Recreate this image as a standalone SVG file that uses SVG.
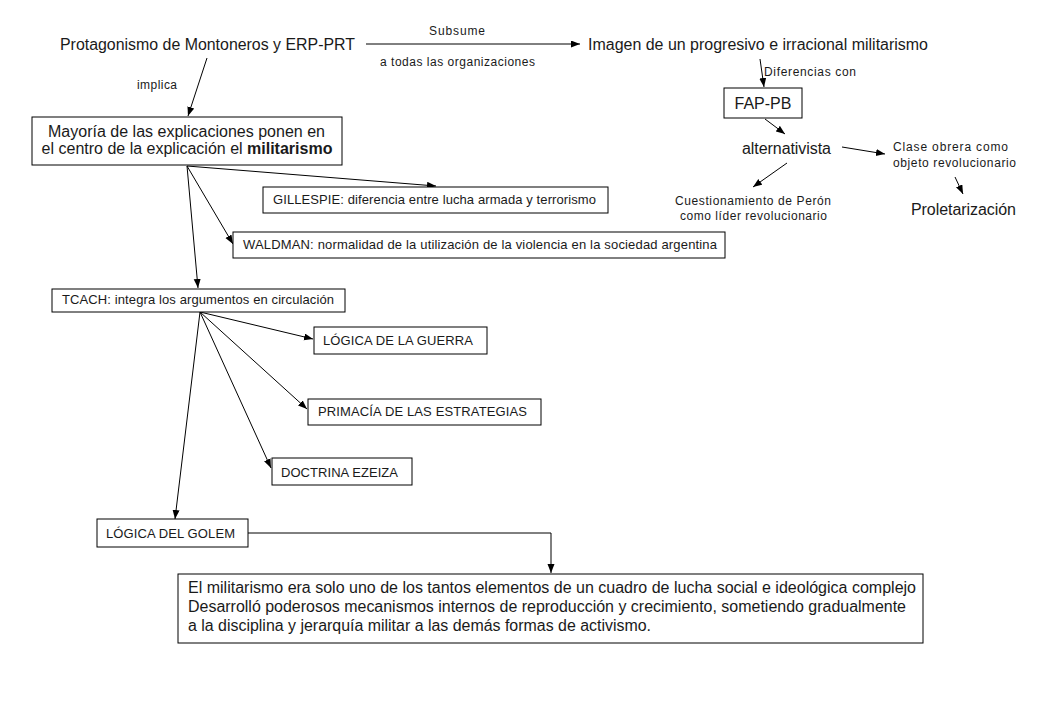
<svg xmlns="http://www.w3.org/2000/svg" width="1040" height="720" viewBox="0 0 1040 720">
<defs>
<marker id="ah" markerUnits="userSpaceOnUse" markerWidth="10" markerHeight="8" refX="9" refY="3.5" orient="auto">
<path d="M0,0 L9,3.5 L0,7 z" fill="#000"/>
</marker>
<style>
text{font-family:"Liberation Sans",Arial,sans-serif;fill:#1a1a1a}
.big{font-size:16px}
.sm{font-size:12px}
.bx{font-size:13px}
.bot{font-size:16px}
.box{fill:#fff;stroke:#000;stroke-width:1}
.c{fill:none;stroke:#000;stroke-width:1}
.a{marker-end:url(#ah)}
</style>
</defs>
<rect width="1040" height="720" fill="#fff"/>

<g id="connectors">
<line class="c a" x1="366" y1="44" x2="580" y2="44"/>
<line class="c a" x1="207" y1="58" x2="188" y2="116"/>
<line class="c a" x1="187" y1="166" x2="436" y2="186"/>
<line class="c a" x1="187" y1="166" x2="233" y2="244"/>
<line class="c a" x1="187" y1="166" x2="198" y2="288"/>
<line class="c a" x1="200" y1="312" x2="313" y2="339"/>
<line class="c a" x1="200" y1="312" x2="307" y2="409"/>
<line class="c a" x1="200" y1="312" x2="271" y2="468"/>
<line class="c a" x1="200" y1="312" x2="175" y2="519"/>
<polyline class="c a" points="248,533 551,533 551,573"/>
<line class="c a" x1="760" y1="59" x2="764" y2="87"/>
<line class="c a" x1="765" y1="119" x2="785" y2="134"/>
<line class="c a" x1="842" y1="147" x2="885" y2="154"/>
<line class="c a" x1="787" y1="163" x2="753" y2="187"/>
<line class="c a" x1="955" y1="177" x2="963" y2="194"/>
</g>

<g id="labels">
<text class="sm" x="429" y="35" textLength="56">Subsume</text>
<text class="sm" x="380" y="66" textLength="155">a todas las organizaciones</text>
<text class="sm" x="137" y="89" textLength="40">implica</text>
<text class="sm" x="764" y="76" textLength="92">Diferencias con</text>
</g>

<g id="n-protagonismo">
<text class="big" x="60" y="50" textLength="295" lengthAdjust="spacingAndGlyphs">Protagonismo de Montoneros y ERP-PRT</text>
</g>

<g id="n-imagen">
<text class="big" x="588" y="50" textLength="340" lengthAdjust="spacingAndGlyphs">Imagen de un progresivo e irracional militarismo</text>
</g>

<g id="n-mayoria">
<rect class="box" x="32" y="117" width="310" height="48"/>
<text class="big" x="48" y="137" textLength="277" lengthAdjust="spacingAndGlyphs">Mayoría de las explicaciones ponen en</text>
<text class="big" x="187" y="154" text-anchor="middle">el centro de la explicación el <tspan font-weight="bold">militarismo</tspan></text>
</g>

<g id="n-gillespie">
<rect class="box" x="263" y="187" width="345" height="26"/>
<text class="bx" x="273" y="204" textLength="323">GILLESPIE: diferencia entre lucha armada y terrorismo</text>
</g>

<g id="n-waldman">
<rect class="box" x="233" y="232" width="492" height="26"/>
<text class="bx" x="243" y="249" textLength="474">WALDMAN: normalidad de la utilización de la violencia en la sociedad argentina</text>
</g>

<g id="n-tcach">
<rect class="box" x="52" y="289" width="293" height="23"/>
<text class="bx" x="62" y="304" textLength="272">TCACH: integra los argumentos en circulación</text>
</g>

<g id="n-guerra">
<rect class="box" x="314" y="327" width="173" height="27"/>
<text class="bx" x="323" y="345" textLength="150">LÓGICA DE LA GUERRA</text>
</g>

<g id="n-primacia">
<rect class="box" x="308" y="399" width="233" height="26"/>
<text class="bx" x="318" y="416" textLength="209">PRIMACÍA DE LAS ESTRATEGIAS</text>
</g>

<g id="n-doctrina">
<rect class="box" x="272" y="458" width="140" height="27"/>
<text class="bx" x="281" y="477" textLength="117">DOCTRINA EZEIZA</text>
</g>

<g id="n-golem">
<rect class="box" x="97" y="519" width="151" height="28"/>
<text class="bx" x="106" y="538" textLength="129">LÓGICA DEL GOLEM</text>
</g>

<g id="n-conclusion">
<rect class="box" x="178" y="574" width="745" height="69"/>
<text class="bot" x="188" y="593" textLength="728" lengthAdjust="spacingAndGlyphs">El militarismo era solo uno de los tantos elementos de un cuadro de lucha social e ideológica complejo</text>
<text class="bot" x="188" y="612" textLength="718" lengthAdjust="spacingAndGlyphs">Desarrolló poderosos mecanismos internos de reproducción y crecimiento, sometiendo gradualmente</text>
<text class="bot" x="188" y="631" textLength="463" lengthAdjust="spacingAndGlyphs">a la disciplina y jerarquía militar a las demás formas de activismo.</text>
</g>

<g id="n-fappb">
<rect class="box" x="724" y="88" width="78" height="30"/>
<text class="big" x="763" y="109" text-anchor="middle">FAP-PB</text>
</g>

<g id="n-alternativista">
<text class="big" x="742" y="154" textLength="89">alternativista</text>
</g>

<g id="n-clase">
<text class="sm" x="893" y="151" textLength="115">Clase obrera como</text>
<text class="sm" x="893" y="167" textLength="123">objeto revolucionario</text>
</g>

<g id="n-cuestionamiento">
<text class="sm" x="675" y="205" textLength="156">Cuestionamiento de Perón</text>
<text class="sm" x="680" y="220" textLength="147">como líder revolucionario</text>
</g>

<g id="n-proletarizacion">
<text class="big" x="911" y="215" textLength="105">Proletarización</text>
</g>
</svg>
